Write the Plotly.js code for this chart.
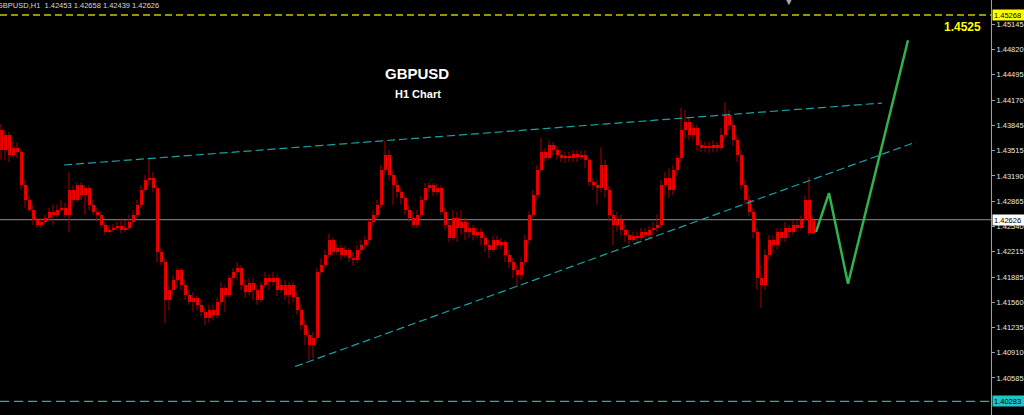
<!DOCTYPE html>
<html>
<head>
<meta charset="utf-8">
<script src="https://cdn.plot.ly/plotly-3.0.1.min.js"></script>
<style>html,body{margin:0;padding:0;background:#000;}#chart{width:1024px;height:415px;}</style>
</head>
<body>
<div id="chart"></div>
<script>
// ---- data (GBPUSD, H1 candles) ----
const openP = [1.4378,
1.4353,1.4372,1.4346,1.4355,1.4350,1.4307,1.4288,1.4275,1.4262,
1.4256,1.4260,1.4265,1.4273,1.4269,1.4275,1.4278,1.4269,1.4301,1.4288,
1.4307,1.4294,1.4304,1.4282,1.4273,1.4269,1.4256,1.4247,1.4249,1.4252,
1.4254,1.4249,1.4252,1.4260,1.4269,1.4282,1.4301,1.4314,1.4316,1.4304,
1.4221,1.4208,1.4159,1.4172,1.4185,1.4198,1.4178,1.4165,1.4156,1.4162,
1.4153,1.4144,1.4136,1.4146,1.4140,1.4156,1.4175,1.4165,1.4187,1.4195,
1.4200,1.4178,1.4169,1.4181,1.4172,1.4159,1.4178,1.4187,1.4182,1.4187,
1.4172,1.4178,1.4165,1.4178,1.4163,1.4146,1.4127,1.4114,1.4101,1.4110,
1.4195,1.4204,1.4217,1.4236,1.4221,1.4226,1.4217,1.4224,1.4213,1.4211,
1.4224,1.4230,1.4236,1.4260,1.4269,1.4282,1.4327,1.4346,1.4320,1.4307,
1.4298,1.4291,1.4275,1.4265,1.4256,1.4269,1.4288,1.4304,1.4307,1.4298,
1.4304,1.4273,1.4256,1.4239,1.4265,1.4252,1.4260,1.4247,1.4252,1.4243,
1.4247,1.4239,1.4230,1.4224,1.4236,1.4230,1.4234,1.4217,1.4208,1.4198,
1.4191,1.4208,1.4236,1.4269,1.4294,1.4327,1.4350,1.4342,1.4359,1.4352,
1.4346,1.4342,1.4345,1.4342,1.4347,1.4343,1.4346,1.4340,1.4311,1.4307,
1.4304,1.4333,1.4301,1.4269,1.4256,1.4262,1.4249,1.4243,1.4236,1.4242,
1.4239,1.4247,1.4243,1.4249,1.4252,1.4256,1.4307,1.4316,1.4301,1.4327,
1.4342,1.4378,1.4389,1.4372,1.4381,1.4359,1.4355,1.4358,1.4355,1.4359,
1.4355,1.4372,1.4398,1.4385,1.4365,1.4346,1.4307,1.4288,1.4273,1.4247,
1.4187,1.4178,1.4217,1.4236,1.4230,1.4247,1.4239,1.4252,1.4247,1.4256,
1.4252,1.4262,1.4288,1.42453];

const highP = [
1.4386,1.4378,1.4376,1.4365,1.4362,1.4353,1.4314,1.4294,1.4282,1.4265,
1.4265,1.4269,1.4278,1.4282,1.4282,1.4288,1.4284,1.4324,1.4307,1.4310,
1.4311,1.4307,1.4307,1.4288,1.4278,1.4273,1.4260,1.4256,1.4257,1.4260,
1.4265,1.4262,1.4269,1.4275,1.4288,1.4307,1.4320,1.4342,1.4324,1.4307,
1.4226,1.4213,1.4178,1.4191,1.4200,1.4200,1.4185,1.4172,1.4169,1.4165,
1.4159,1.4149,1.4153,1.4153,1.4162,1.4182,1.4178,1.4191,1.4200,1.4208,
1.4204,1.4185,1.4187,1.4187,1.4178,1.4182,1.4195,1.4192,1.4195,1.4191,
1.4185,1.4185,1.4182,1.4182,1.4169,1.4153,1.4133,1.4120,1.4118,1.4200,
1.4213,1.4224,1.4245,1.4239,1.4231,1.4230,1.4229,1.4226,1.4221,1.4230,
1.4236,1.4242,1.4265,1.4275,1.4288,1.4333,1.4365,1.4353,1.4327,1.4314,
1.4304,1.4294,1.4282,1.4273,1.4275,1.4293,1.4310,1.4311,1.4310,1.4309,
1.4307,1.4278,1.4262,1.4275,1.4273,1.4275,1.4265,1.4260,1.4256,1.4252,
1.4252,1.4243,1.4236,1.4242,1.4242,1.4239,1.4236,1.4224,1.4213,1.4204,
1.4213,1.4243,1.4273,1.4301,1.4333,1.4368,1.4355,1.4365,1.4363,1.4358,
1.4352,1.4350,1.4350,1.4352,1.4352,1.4352,1.4352,1.4342,1.4316,1.4314,
1.4356,1.4340,1.4306,1.4275,1.4273,1.4269,1.4256,1.4249,1.4247,1.4247,
1.4252,1.4252,1.4254,1.4260,1.4269,1.4314,1.4324,1.4329,1.4333,1.4346,
1.4407,1.4404,1.4394,1.4386,1.4385,1.4365,1.4363,1.4363,1.4365,1.4363,
1.4381,1.4414,1.4404,1.4391,1.4372,1.4352,1.4314,1.4293,1.4278,1.4252,
1.4204,1.4224,1.4243,1.4242,1.4252,1.4252,1.4260,1.4256,1.4262,1.4262,
1.4268,1.4294,1.4318,1.42658];

const lowP = [
1.4340,1.4340,1.4337,1.4342,1.4342,1.4301,1.4278,1.4273,1.4256,1.4252,
1.4252,1.4257,1.4262,1.4256,1.4265,1.4273,1.4265,1.4247,1.4282,1.4285,
1.4288,1.4269,1.4275,1.4269,1.4260,1.4252,1.4243,1.4245,1.4247,1.4249,
1.4245,1.4247,1.4249,1.4256,1.4265,1.4278,1.4298,1.4307,1.4298,1.4208,
1.4204,1.4129,1.4146,1.4165,1.4175,1.4172,1.4159,1.4153,1.4144,1.4146,
1.4138,1.4127,1.4130,1.4133,1.4136,1.4153,1.4144,1.4162,1.4178,1.4185,
1.4172,1.4162,1.4165,1.4159,1.4153,1.4156,1.4175,1.4172,1.4178,1.4164,
1.4169,1.4159,1.4153,1.4156,1.4140,1.4120,1.4101,1.4082,1.4084,1.4107,
1.4191,1.4200,1.4213,1.4216,1.4217,1.4211,1.4213,1.4208,1.4204,1.4207,
1.4218,1.4224,1.4231,1.4254,1.4265,1.4278,1.4320,1.4314,1.4282,1.4291,
1.4282,1.4269,1.4260,1.4252,1.4252,1.4265,1.4282,1.4298,1.4293,1.4294,
1.4269,1.4249,1.4234,1.4236,1.4234,1.4243,1.4236,1.4239,1.4236,1.4239,
1.4230,1.4221,1.4213,1.4221,1.4224,1.4224,1.4208,1.4200,1.4187,1.4175,
1.4185,1.4204,1.4231,1.4265,1.4288,1.4324,1.4337,1.4340,1.4346,1.4340,
1.4337,1.4336,1.4337,1.4337,1.4337,1.4340,1.4329,1.4306,1.4301,1.4282,
1.4298,1.4291,1.4260,1.4230,1.4247,1.4242,1.4234,1.4231,1.4234,1.4234,
1.4236,1.4239,1.4239,1.4243,1.4247,1.4252,1.4294,1.4291,1.4294,1.4320,
1.4337,1.4368,1.4365,1.4365,1.4352,1.4350,1.4350,1.4349,1.4350,1.4350,
1.4352,1.4368,1.4378,1.4358,1.4337,1.4301,1.4282,1.4267,1.4239,1.4172,
1.4149,1.4172,1.4211,1.4221,1.4224,1.4234,1.4234,1.4239,1.4243,1.4247,
1.4249,1.4260,1.4242,1.42439];

const closeP = [
1.4353,1.4372,1.4346,1.4355,1.4350,1.4307,1.4288,1.4275,1.4262,1.4256,
1.4260,1.4265,1.4273,1.4269,1.4275,1.4278,1.4269,1.4301,1.4288,1.4307,
1.4294,1.4304,1.4282,1.4273,1.4269,1.4256,1.4247,1.4249,1.4252,1.4254,
1.4249,1.4252,1.4260,1.4269,1.4282,1.4301,1.4314,1.4316,1.4304,1.4221,
1.4208,1.4159,1.4172,1.4185,1.4198,1.4178,1.4165,1.4156,1.4162,1.4153,
1.4144,1.4136,1.4146,1.4140,1.4156,1.4175,1.4165,1.4187,1.4195,1.4200,
1.4178,1.4169,1.4181,1.4172,1.4159,1.4178,1.4187,1.4182,1.4187,1.4172,
1.4178,1.4165,1.4178,1.4163,1.4146,1.4127,1.4114,1.4101,1.4110,1.4195,
1.4204,1.4217,1.4236,1.4221,1.4226,1.4217,1.4224,1.4213,1.4211,1.4224,
1.4230,1.4236,1.4260,1.4269,1.4282,1.4327,1.4346,1.4320,1.4307,1.4298,
1.4291,1.4275,1.4265,1.4256,1.4269,1.4288,1.4304,1.4307,1.4298,1.4304,
1.4273,1.4256,1.4239,1.4265,1.4252,1.4260,1.4247,1.4252,1.4243,1.4247,
1.4239,1.4230,1.4224,1.4236,1.4230,1.4234,1.4217,1.4208,1.4198,1.4191,
1.4208,1.4236,1.4269,1.4294,1.4327,1.4350,1.4342,1.4359,1.4352,1.4346,
1.4342,1.4345,1.4342,1.4347,1.4343,1.4346,1.4340,1.4311,1.4307,1.4304,
1.4333,1.4301,1.4269,1.4256,1.4262,1.4249,1.4243,1.4236,1.4242,1.4239,
1.4247,1.4243,1.4249,1.4252,1.4256,1.4307,1.4316,1.4301,1.4327,1.4342,
1.4378,1.4389,1.4372,1.4381,1.4359,1.4355,1.4358,1.4355,1.4359,1.4355,
1.4372,1.4398,1.4385,1.4365,1.4346,1.4307,1.4288,1.4273,1.4247,1.4187,
1.4178,1.4217,1.4236,1.4230,1.4247,1.4239,1.4252,1.4247,1.4256,1.4252,
1.4262,1.4288,1.4245,1.42626];

// horizontal levels: resistance, current bid, support
const levelPrices = [1.45268, 1.42626, 1.40283];
const levelLabels = ['1.45268', '1.42626', '1.40283'];

// trend lines (bar index, price)
const upperX = [15.75, 220.25];
const upperY = [1.43332, 1.44131];
const lowerX = [73.5, 228.75];
const lowerY = [1.40732, 1.43628];

// projected path (green zigzag)
const projX = [203.75, 207, 211.75, 226.75];
const projY = [1.4247, 1.4297, 1.4180, 1.4494];

// price axis ticks
const tickVals = [1.45145,1.44820,1.44495,1.44170,1.43845,1.43515,1.43190,1.42865,1.42540,1.42215,1.41885,1.41560,1.41235,1.40910,1.40585];
const tickText = tickVals.map(v => v.toFixed(5));

// ---- traces ----
const idx = closeP.map((_, i) => i);
const wickX = [], wickY = [];
idx.forEach(i => { wickX.push(i, i, null); wickY.push(highP[i], lowP[i], null); });

const wicks = {
  type: 'scatter', mode: 'lines', x: wickX, y: wickY,
  line: {color: '#b00000', width: 1}, hoverinfo: 'skip'
};
const bodies = {
  type: 'bar', x: idx,
  base: idx.map(i => Math.min(openP[i], closeP[i])),
  y: idx.map(i => Math.max(Math.abs(closeP[i] - openP[i]), 0.00012)),
  width: 0.75,
  marker: {color: '#ff0000', line: {width: 0}}, hoverinfo: 'skip'
};
const upper = {type:'scatter', mode:'lines', x: upperX, y: upperY,
  line:{color:'#17a3a3', width:1.2, dash:'8px,4px'}};
const lower = {type:'scatter', mode:'lines', x: lowerX, y: lowerY,
  line:{color:'#17a3a3', width:1.2, dash:'8px,4px'}};
const proj = {type:'scatter', mode:'lines', x: projX, y: projY,
  line:{color:'#2fb34f', width:2.5}};

const levelStyles = [
  {color:'#c8c800', dash:'7px,4px', width:1.5},
  {color:'#8e8e8e', dash:'solid', width:1},
  {color:'#1bb5b5', dash:'9px,5px', width:1.2}
];
const labelBg = ['#ffff00', '#ffffff', '#22c4c4'];

const shapes = levelPrices.map((p, k) => ({
  type:'line', xref:'paper', x0:0, x1:1, yref:'y', y0:p, y1:p,
  line: levelStyles[k], layer:'below'
}));

const F = 'Liberation Sans, Arial, sans-serif';
const annotations = [
  {xref:'paper', yref:'paper', x:0, y:1, xanchor:'left', yanchor:'top', xshift:-5, yshift:1,
   text:'GBPUSD,H1&nbsp;&nbsp;1.42453 1.42658 1.42439 1.42626', showarrow:false,
   font:{family:F, size:7.5, color:'#d8d8d8'}},
  {xref:'paper', yref:'paper', x:417/991, y:1-73/415, xanchor:'center', yanchor:'middle',
   text:'<b>GBPUSD</b>', showarrow:false, font:{family:F, size:15, color:'#ffffff'}},
  {xref:'paper', yref:'paper', x:418/991, y:1-94/415, xanchor:'center', yanchor:'middle',
   text:'<b>H1 Chart</b>', showarrow:false, font:{family:F, size:11, color:'#ffffff'}},
  {xref:'paper', yref:'paper', x:983/991, y:1-27/415, xanchor:'right', yanchor:'middle',
   text:'<b>1.4525</b>', showarrow:false, font:{family:F, size:12, color:'#ffff00'}},
  {xref:'paper', yref:'paper', x:789/991, y:1, xanchor:'center', yanchor:'top', yshift:7,
   text:'▼', showarrow:false, font:{family:'DejaVu Sans', size:10, color:'#a8a8a8'}}
];
levelPrices.forEach((p, k) => annotations.push({
  xref:'paper', yref:'y', x:1, y:p, xanchor:'left', yanchor:'middle', xshift:1,
  text: levelLabels[k], showarrow:false, bgcolor: labelBg[k], borderpad:1,
  width:29, height:8, align:'left',
  font:{family:F, size:7.5, color:'#000000'}
}));

const layout = {
  width:1024, height:415,
  paper_bgcolor:'#000000', plot_bgcolor:'#000000',
  margin:{l:0, r:33, t:0, b:0, pad:0},
  showlegend:false, hovermode:false, bargap:0,
  xaxis:{range:[-0.25, 247.5], visible:false, fixedrange:true},
  yaxis:{side:'right', range:[1.40107, 1.4546], tickvals:tickVals, ticktext:tickText,
    ticks:'outside', ticklen:3, tickcolor:'#a0a0a0', showgrid:false, zeroline:false,
    showline:true, linecolor:'#a0a0a0', linewidth:1, fixedrange:true,
    tickfont:{family:F, size:7.5, color:'#e6e6e6'}},
  shapes: shapes,
  annotations: annotations
};

Plotly.newPlot('chart', [wicks, bodies, upper, lower, proj], layout, {staticPlot:true, displayModeBar:false});
</script>
</body>
</html>
